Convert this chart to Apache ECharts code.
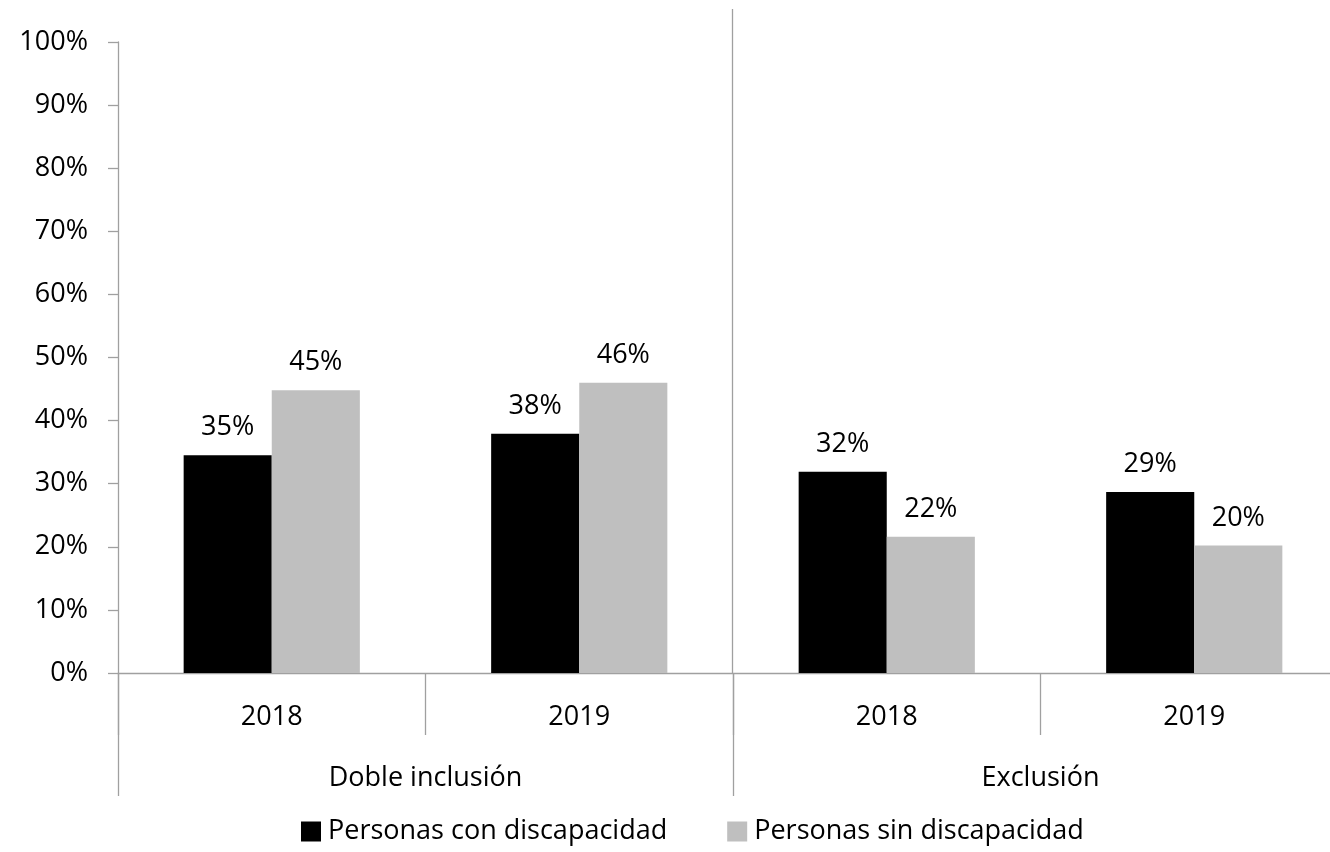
<!DOCTYPE html>
<html>
<head>
<meta charset="utf-8">
<script src="https://cdn.jsdelivr.net/npm/echarts@6/dist/echarts.min.js"></script>
<style>
html,body{margin:0;padding:0;background:#fff;}
#chart{width:1330px;height:852px;}
</style>
</head>
<body>
<div id="chart"></div>
<script>
const years = ['2018', '2019', '2018', '2019'];
const groups = ['Doble inclusión', 'Exclusión'];
const seriesNames = ['Personas con discapacidad', 'Personas sin discapacidad'];
const conDiscapacidad = [34.5, 37.9, 31.9, 28.7];
const sinDiscapacidad = [44.8, 46.0, 21.6, 20.2];
const yTicks = [0, 10, 20, 30, 40, 50, 60, 70, 80, 90, 100];
const separatorSteps = [0, 1, 2];

const FONT = 'Open Sans';
const FS = 27;
const AXIS_COLOR = '#a0a0a0';

const chart = echarts.init(document.getElementById('chart'), null, {renderer: 'canvas'});

const labelCfg = {
  show: true,
  position: 'top',
  distance: 14,
  color: '#000',
  fontFamily: FONT,
  fontSize: FS,
  formatter: p => Math.round(p.value) + '%'
};

chart.setOption({
  animation: false,
  backgroundColor: '#fff',
  textStyle: {fontFamily: FONT},
  grid: [
    {left: 118, width: 1230, top: 42, bottom: 179, containLabel: false, outerBoundsMode: 'none'},
    {left: -268, width: 2000, top: 9, bottom: 179, containLabel: false, outerBoundsMode: 'none'}
  ],
  legend: {
    data: seriesNames,
    bottom: 2,
    left: 296,
    itemWidth: 20,
    itemHeight: 20,
    itemGap: 60,
    icon: 'rect',
    textStyle: {fontFamily: FONT, fontSize: FS, color: '#000', padding: [0, 0, 0, 2]}
  },
  xAxis: [
    {
      type: 'category',
      gridIndex: 0,
      data: years,
      position: 'bottom',
      axisLine: {show: true, lineStyle: {color: AXIS_COLOR, width: 1.3}},
      axisTick: {show: true, interval: 0, length: 62, lineStyle: {color: AXIS_COLOR, width: 1.3}},
      axisLabel: {interval: 0, margin: 31, color: '#000', fontFamily: FONT, fontSize: FS},
      splitLine: {show: false}
    },
    {
      type: 'category',
      gridIndex: 0,
      data: groups,
      position: 'bottom',
      offset: 0,
      axisLine: {show: false},
      axisTick: {show: true, interval: 0, length: 123, lineStyle: {color: AXIS_COLOR, width: 1.3}},
      axisLabel: {interval: 0, margin: 92, color: '#000', fontFamily: FONT, fontSize: FS},
      splitLine: {show: false}
    },
    {
      type: 'value',
      gridIndex: 1,
      min: separatorSteps[0],
      max: separatorSteps[separatorSteps.length - 1],
      interval: 1,
      axisLine: {show: false},
      axisTick: {show: false},
      axisLabel: {show: false},
      splitLine: {show: true, lineStyle: {color: AXIS_COLOR, width: 1.3}}
    }
  ],
  yAxis: [
    {
      type: 'value',
      gridIndex: 0,
      min: yTicks[0],
      max: yTicks[yTicks.length - 1],
      interval: 10,
      axisLine: {show: true, lineStyle: {color: AXIS_COLOR, width: 1.3}},
      axisTick: {show: true, length: 10, lineStyle: {color: AXIS_COLOR, width: 1.3}},
      axisLabel: {margin: 30, color: '#000', fontFamily: FONT, fontSize: FS, formatter: '{value}%'},
      splitLine: {show: false}
    },
    {
      type: 'value',
      gridIndex: 1,
      show: false,
      min: 0, max: 100
    }
  ],
  series: [
    {
      name: seriesNames[0],
      type: 'bar',
      xAxisIndex: 0,
      yAxisIndex: 0,
      data: conDiscapacidad,
      barGap: '0%',
      barCategoryGap: '42.7%',
      itemStyle: {color: '#000000'},
      label: labelCfg
    },
    {
      name: seriesNames[1],
      type: 'bar',
      xAxisIndex: 0,
      yAxisIndex: 0,
      data: sinDiscapacidad,
      barGap: '0%',
      barCategoryGap: '42.7%',
      itemStyle: {color: '#bfbfbf'},
      label: labelCfg
    }
  ]
});
</script>
</body>
</html>
